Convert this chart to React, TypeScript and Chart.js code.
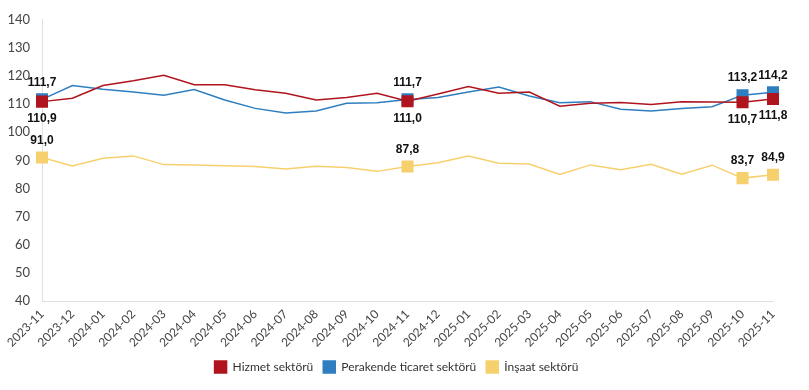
import React, { useEffect, useRef } from "react";
import { Chart, registerables } from "chart.js";

Chart.register(...registerables);

const categories = [
  "2023-11", "2023-12", "2024-01", "2024-02", "2024-03", "2024-04", "2024-05",
  "2024-06", "2024-07", "2024-08", "2024-09", "2024-10", "2024-11", "2024-12",
  "2025-01", "2025-02", "2025-03", "2025-04", "2025-05", "2025-06", "2025-07",
  "2025-08", "2025-09", "2025-10", "2025-11",
];

const hizmet = [
  110.9, 112.1, 116.6, 118.3, 120.3, 116.9, 116.9, 115.1, 113.9, 111.5, 112.4,
  113.9, 111.0, 113.6, 116.3, 113.9, 114.3, 109.3, 110.3, 110.6, 109.9, 110.9,
  110.8, 110.7, 111.8,
];

const perakende = [
  111.7, 116.6, 115.3, 114.3, 113.2, 115.2, 111.5, 108.5, 106.9, 107.6, 110.3,
  110.5, 111.7, 112.4, 114.3, 116.1, 112.9, 110.5, 110.9, 108.2, 107.6, 108.5,
  109.1, 113.2, 114.2,
];

const insaat = [
  91.0, 88.0, 90.8, 91.6, 88.5, 88.4, 88.1, 87.8, 86.9, 87.9, 87.5, 86.1, 87.8,
  89.2, 91.6, 89.0, 88.7, 85.0, 88.4, 86.7, 88.6, 85.1, 88.3, 83.7, 84.9,
];

const highlighted = [0, 12, 23, 24];
const yTicks = [40, 50, 60, 70, 80, 90, 100, 110, 120, 130, 140];

const RED = "#B0141E";
const BLUE = "#2F7EC0";
const YELLOW = "#F7D06E";

const FONT = "Lato, 'Open Sans', sans-serif";

const fmt = (v: number) => v.toFixed(1).replace(".", ",");

const labelPlugin = {
  id: "valueLabels",
  afterDatasetsDraw(chart: any) {
    const ctx = chart.ctx;
    ctx.save();
    ctx.font = "bold 12px 'Liberation Sans', Arial, sans-serif";
    ctx.fillStyle = "#111";
    ctx.textAlign = "center";
    ctx.textBaseline = "middle";
    chart.data.datasets.forEach((ds: any, di: number) => {
      const meta = chart.getDatasetMeta(di);
      const pos = ds.labelPos;
      highlighted.forEach((i) => {
        const pt = meta.data[i];
        if (!pt) return;
        const dy = pos === "below" ? 17 : -17;
        ctx.fillText(fmt(ds.data[i]), pt.x, pt.y + dy);
      });
    });
    ctx.restore();
  },
};

export default function App() {
  const ref = useRef<HTMLCanvasElement>(null);
  useEffect(() => {
    if (!ref.current) return;
    const radius = (c: any) => (highlighted.includes(c.dataIndex) ? 8.5 : 0);
    const mk = (label: string, data: number[], color: string, labelPos: string) => ({
      label,
      data,
      borderColor: color,
      backgroundColor: color,
      borderWidth: 1.5,
      pointStyle: "rect",
      pointRadius: radius,
      pointHoverRadius: radius,
      pointBorderWidth: 0,
      pointBackgroundColor: color,
      tension: 0,
      labelPos,
    });
    const chart = new Chart(ref.current, {
      type: "line",
      data: {
        labels: categories,
        datasets: [
          mk("Hizmet sektörü", hizmet, RED, "below"),
          mk("Perakende ticaret sektörü", perakende, BLUE, "above"),
          mk("İnşaat sektörü", insaat, YELLOW, "above"),
        ] as any,
      },
      options: {
        animation: false,
        responsive: false,
        maintainAspectRatio: false,
        layout: { padding: { left: 0, right: 16, top: 18, bottom: 7 } },
        plugins: {
          tooltip: { enabled: false },
          legend: {
            position: "bottom",
            labels: {
              boxWidth: 12,
              boxHeight: 12,
              padding: 10,
              color: "#333",
              font: { family: FONT, size: 12 },
              usePointStyle: false,
            },
          },
        },
        scales: {
          x: {
            grid: { display: false, drawTicks: false },
            border: { display: true, color: "#e0e0e0", width: 1 },
            afterFit: (axis: any) => {
              axis.height = 50;
            },
            ticks: {
              color: "#444",
              font: { family: FONT, size: 12 },
              maxRotation: 45,
              minRotation: 45,
              autoSkip: false,
              padding: 6,
            },
          },
          y: {
            min: 40,
            max: 140,
            afterBuildTicks: (axis: any) => {
              axis.ticks = yTicks.map((v) => ({ value: v }));
            },
            afterFit: (axis: any) => {
              axis.width = 42;
            },
            grid: { display: false, drawTicks: false },
            border: { display: true, color: "#e0e0e0", width: 1 },
            ticks: {
              color: "#444",
              font: { family: FONT, size: 13 },
              padding: 12,
            },
          },
          spacer: {
            type: "linear",
            position: "right",
            display: true,
            min: 40,
            max: 140,
            grid: { display: false, drawTicks: false },
            border: { display: false },
            ticks: { display: false },
            afterFit: (axis: any) => {
              axis.width = 20;
            },
          },
        },
      },
      plugins: [labelPlugin],
    } as any);
    return () => chart.destroy();
  }, []);
  return (
    <div style={{ position: "absolute", left: 0, top: 0, width: 809, height: 390, background: "#fff" }}>
      <canvas ref={ref} width={809} height={390} style={{ display: "block" }} />
    </div>
  );
}
